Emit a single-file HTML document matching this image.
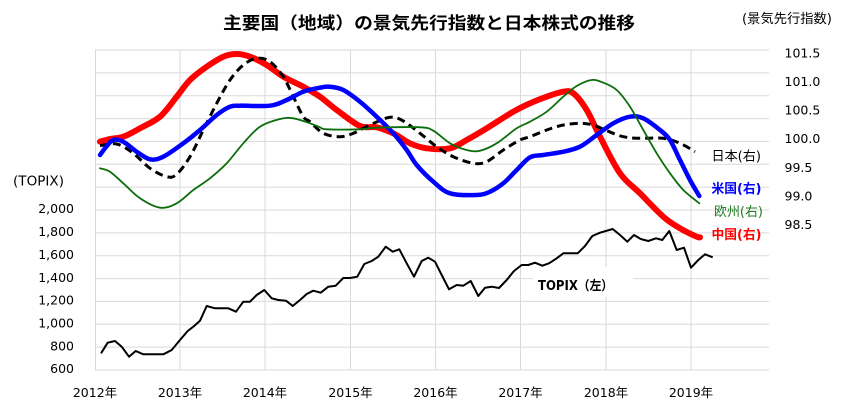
<!DOCTYPE html>
<html>
<head>
<meta charset="utf-8">
<style>
html,body{margin:0;padding:0;background:#fff;}
svg{display:block;}
text{font-family:"DejaVu Sans","Liberation Sans","Noto Sans CJK JP",sans-serif;fill:#000;}
.cjk{font-family:"DejaVu Sans","Noto Sans CJK JP",sans-serif;}
</style>
</head>
<body>
<svg id="chart" width="863" height="411" viewBox="0 0 863 411" xmlns="http://www.w3.org/2000/svg">
<rect width="863" height="411" fill="#fff"/>
<!-- title -->
<text x="223" y="29" font-size="17" font-weight="bold" class="cjk" textLength="412" lengthAdjust="spacingAndGlyphs">主要国（地域）の景気先行指数と日本株式の推移</text>
<text x="742" y="23" font-size="13" class="cjk" textLength="90" lengthAdjust="spacingAndGlyphs">(景気先行指数)</text>
<text x="13" y="185.5" font-size="13" textLength="51" lengthAdjust="spacingAndGlyphs">(TOPIX)</text>

<!-- grid -->
<g stroke="#d9d9d9" stroke-width="1" fill="none">
<line x1="95" y1="50" x2="769" y2="50"/>
<line x1="95" y1="72.9" x2="769" y2="72.9"/>
<line x1="95" y1="95.7" x2="769" y2="95.7"/>
<line x1="95" y1="118.6" x2="769" y2="118.6"/>
<line x1="95" y1="141.4" x2="769" y2="141.4"/>
<line x1="95" y1="164.3" x2="769" y2="164.3"/>
<line x1="95" y1="187.1" x2="769" y2="187.1"/>
<line x1="95" y1="210" x2="769" y2="210"/>
<line x1="95" y1="232.9" x2="769" y2="232.9"/>
<line x1="95" y1="255.7" x2="769" y2="255.7"/>
<line x1="95" y1="278.6" x2="769" y2="278.6"/>
<line x1="95" y1="301.4" x2="769" y2="301.4"/>
<line x1="95" y1="324.3" x2="769" y2="324.3"/>
<line x1="95" y1="347.1" x2="769" y2="347.1"/>
<line x1="95" y1="370" x2="769" y2="370"/>
<line x1="95.5" y1="50" x2="95.5" y2="370"/>
<line x1="180" y1="50" x2="180" y2="370"/>
<line x1="265" y1="50" x2="265" y2="370"/>
<line x1="350.5" y1="50" x2="350.5" y2="370"/>
<line x1="435.5" y1="50" x2="435.5" y2="370"/>
<line x1="520.5" y1="50" x2="520.5" y2="370"/>
<line x1="606" y1="50" x2="606" y2="370"/>
<line x1="691" y1="50" x2="691" y2="370"/>
</g>

<!-- left axis labels -->
<g font-size="12.5" text-anchor="end">
<text x="74" y="213">2,000</text>
<text x="74" y="236">1,800</text>
<text x="74" y="259">1,600</text>
<text x="74" y="281.8">1,400</text>
<text x="74" y="304.6">1,200</text>
<text x="74" y="327.5">1,000</text>
<text x="74" y="350.3">800</text>
<text x="74" y="373.2">600</text>
</g>

<!-- right axis labels -->
<g font-size="12.5">
<text x="784.5" y="57.3">101.5</text>
<text x="784.5" y="86">101.0</text>
<text x="784.5" y="114.6">100.5</text>
<text x="784.5" y="143.2">100.0</text>
<text x="784.5" y="171.8">99.5</text>
<text x="784.5" y="200.4">99.0</text>
<text x="784.5" y="229">98.5</text>
</g>

<!-- x axis labels -->
<g font-size="12.5" text-anchor="middle" class="cjk">
<text x="95" y="397">2012年</text>
<text x="180" y="397">2013年</text>
<text x="265" y="397">2014年</text>
<text x="350.5" y="397">2015年</text>
<text x="435.5" y="397">2016年</text>
<text x="520.5" y="397">2017年</text>
<text x="606" y="397">2018年</text>
<text x="691" y="397">2019年</text>
</g>

<!-- series -->
<g fill="none" stroke-linejoin="round" stroke-linecap="round">
<polyline class="smooth" stroke="#ff0000" stroke-width="6" points="100,141.7 110,139 123.3,136.7 140,128.3 160,116.7 176.7,96.7 190,80 206.7,66.7 223.3,56.7 236.7,54 250,56.7 266.7,65 283.3,76.7 303.3,86.7 320,96.7 336.7,110 360,126 376.7,127.3 393.3,133.3 410,143.3 426.7,148.3 450,148.3 466.7,140 486.7,128.3 513.3,111.7 530,103.3 546.7,96.7 563.3,91.7 573.3,93.3 586.7,110 600,136.7 620,173.3 640,193.3 663.3,216.7 680,228.3 696.7,236.7 700,237.3"/>
<polyline class="smooth" stroke="#000" stroke-width="3" stroke-linecap="butt" stroke-dasharray="8,5" points="100,145.7 116.7,144 133.3,153.3 150,168.3 166.7,176.7 176.7,174.3 190,156.7 203.3,130 216.7,103.3 230,80 243.3,65 256.7,58.3 270,61.7 283.3,76.7 293.3,96.7 303.3,116.7 310,121.7 323.3,133.3 340,136.7 353.3,133.3 370,125 390,117.3 403.3,121 420,133.3 436.7,146.7 453.3,156.7 473.3,163.3 486.7,161.7 503.3,150 520,140 530,136.7 546.7,130 563.3,125 580,123.3 593.3,125 606.7,130.7 623.3,136.7 640,138.3 663.3,138.3 680,143.3 695,151.7"/>
<polyline class="smooth" stroke="#0000ff" stroke-width="4.5" points="100,155 106,147 113.3,140 123.3,141.7 136.7,151.7 150,159.3 163.3,156.7 183.3,143.3 200,130 216.7,115 230,106.7 240,105.7 270,105.7 286.7,100 303.3,91.7 320,87.7 330,86.7 343.3,90 360,101.7 376.7,116.7 393.3,133.3 406.7,150 416.7,165 433.3,181.7 450,193.3 476.7,195 490,191.7 503.3,183.3 516.7,170 530,157.3 543.3,155 563.3,151.7 580,146.7 596.7,135 613.3,123.3 630,116.7 643.3,118.3 660,130 670,140 680,160 690,180 699.3,196"/>
<polyline class="smooth" stroke="#0b6e0b" stroke-width="1.8" points="100,168.3 110,171.7 123.3,183.3 140,198.3 160,207.7 176.7,203.3 193.3,190 210,178.3 226.7,163.3 243.3,143.3 260,126.7 280,119 293.3,118.3 310,123.3 320,127.3 326.7,129.3 360,129.3 376.7,127.7 420,127.3 433.3,130.7 450,143.3 466.7,150 480,150.7 496.7,143.3 516.7,128.3 530,121.7 546.7,111.7 563.3,96.7 576.7,86 591.7,80 603.3,82.7 616.7,90 630,106.7 643.3,130 656.7,153.3 670,173.3 683.3,190 699.3,203.3"/>
</g>

<!-- TOPIX label box -->
<rect x="533" y="267" width="100" height="30" fill="#fff"/>
<text x="538" y="290" font-size="13" font-weight="bold" class="cjk" textLength="75" lengthAdjust="spacingAndGlyphs">TOPIX（左）</text>

<polyline fill="none" stroke="#000" stroke-width="2" stroke-linejoin="round" points="101,353.3 107.7,342.7 115,341 121.7,346.7 129,356.7 135.7,351 143.3,354.3 163.3,354.3 171.7,350 180,340 187.7,331 193.3,326.7 200,320.7 206.7,306 215,308.3 228.3,308.3 236,311.7 243.3,301.7 250,301.7 256.7,295 264.3,290 271.7,298.3 278.3,300 286,300.7 292.7,306 300,300 306.7,294 313.3,290.7 320.7,292.7 328.3,286.7 335.7,285.7 343.3,278 350,278 357.3,276.7 364.3,264 371.7,261 378.3,256.7 385.7,246.7 392.7,251.7 399.3,249.3 406.7,263.3 414,276.7 421.7,261 428.3,257.7 435,261.7 441.7,275 449,289.3 456.7,285 463.3,285.7 470.7,281 478.3,296 485,287.7 491.7,286.7 499,288 506.7,280 514,271 521.7,265 528.3,265 535,262.7 542.3,265.7 549,263.3 556.7,258.3 563.3,253.3 577.7,253.3 585,246 592.3,236 600,232.7 612.7,229 620,235 627.3,241.7 634,235 640.7,239 648.3,241 656,238.3 662.3,240 669.3,231 676.7,250 684,247.7 691,267.7 698.3,260 705,254.3 712.7,257.3"/>

<!-- series labels -->
<g font-size="13" class="cjk">
<text x="711.5" y="160.5" textLength="49.5" lengthAdjust="spacingAndGlyphs">日本(右)</text>
<text x="711.5" y="193" font-weight="bold" style="fill:#0000ff" textLength="50" lengthAdjust="spacingAndGlyphs">米国(右)</text>
<text x="714" y="216" style="fill:#1e7a1e" textLength="49" lengthAdjust="spacingAndGlyphs">欧州(右)</text>
<text x="711.5" y="239" font-weight="bold" style="fill:#ff0000" textLength="50" lengthAdjust="spacingAndGlyphs">中国(右)</text>
</g>
</svg>
<script>
(function(){
  var NS="http://www.w3.org/2000/svg";
  var pls=document.querySelectorAll("polyline.smooth");
  for(var k=0;k<pls.length;k++){
    var pl=pls[k];
    var raw=pl.getAttribute("points").trim().split(/\s+/);
    var p=raw.map(function(s){var a=s.split(",");return [parseFloat(a[0]),parseFloat(a[1])];});
    var d="M"+p[0][0]+","+p[0][1];
    for(var i=0;i<p.length-1;i++){
      var p0=p[i>0?i-1:i],p1=p[i],p2=p[i+1],p3=p[i+2<p.length?i+2:i+1];
      var t=1/6;
      var c1x=p1[0]+(p2[0]-p0[0])*t,c1y=p1[1]+(p2[1]-p0[1])*t;
      var c2x=p2[0]-(p3[0]-p1[0])*t,c2y=p2[1]-(p3[1]-p1[1])*t;
      d+=" C"+c1x.toFixed(2)+","+c1y.toFixed(2)+" "+c2x.toFixed(2)+","+c2y.toFixed(2)+" "+p2[0]+","+p2[1];
    }
    var path=document.createElementNS(NS,"path");
    var attrs=pl.attributes;
    for(var j=0;j<attrs.length;j++){
      var n=attrs[j].name;
      if(n!=="points"&&n!=="class") path.setAttribute(n,attrs[j].value);
    }
    path.setAttribute("d",d);
    pl.parentNode.replaceChild(path,pl);
  }
})();
</script>
</body>
</html>
